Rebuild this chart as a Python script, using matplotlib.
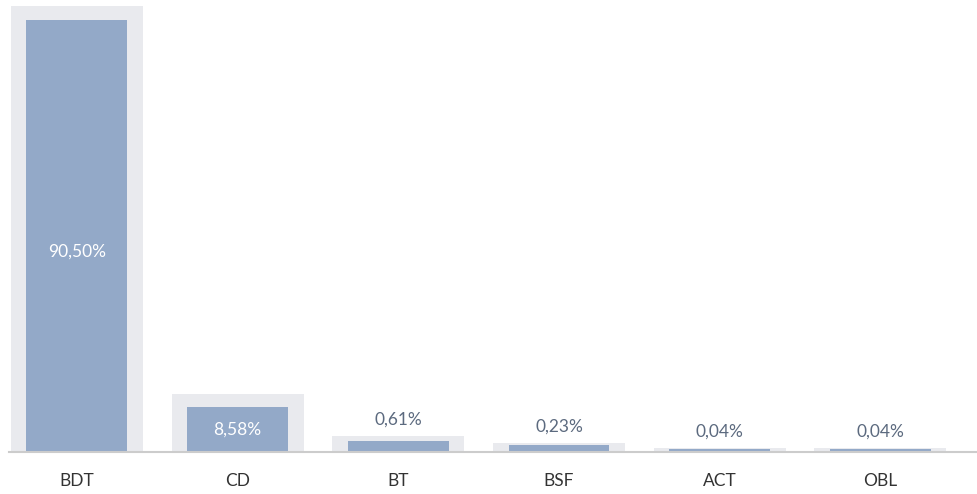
import matplotlib
matplotlib.use("Agg")
import matplotlib.pyplot as plt

categories = ["BDT", "CD", "BT", "BSF", "ACT", "OBL"]
value_labels = ["90,50%", "8,58%", "0,61%", "0,23%", "0,04%", "0,04%"]
# bar heights (same units as the 90.50% bar)
blue_heights = [90.5, 9.43, 2.30, 1.47, 0.63, 0.63]
grey_heights = [93.4, 12.15, 3.35, 1.89, 0.84, 0.84]

plt.rcParams['font.family'] = ['Lato', 'DejaVu Sans']

W, H = 977, 494
fig = plt.figure(figsize=(W / 100, H / 100), dpi=100)
base_px = 452
ppu = 432 / 90.5
ax = fig.add_axes([0, (H - base_px) / H, 1, base_px / H])
ax.set_xlim(-0.4785, 5.601)
ax.set_ylim(0, base_px / ppu)

x = list(range(len(categories)))
ax.bar(x, grey_heights, width=0.821, color="#e9eaee", zorder=1)
ax.bar(x, blue_heights, width=0.628, color="#93a9c8", zorder=2)

for i, (lab, h, g) in enumerate(zip(value_labels, blue_heights, grey_heights)):
    if h > 5:
        yy = h * 0.463 if h > 50 else h / 2
        ax.text(i, yy, lab, ha="center", va="center", color="white", fontsize=12.5, zorder=3)
    else:
        ax.annotate(lab, (i, g), xytext=(0, 11.5), textcoords="offset points",
                    ha="center", va="center", color="#5c6a7f", fontsize=12.5, zorder=3)

for s in ["top", "right", "left"]:
    ax.spines[s].set_visible(False)
ax.spines["bottom"].set_color("#cccccc")
ax.spines["bottom"].set_linewidth(1.5)
ax.spines["bottom"].set_bounds(-0.4225, 5.601)
ax.spines["bottom"].set_zorder(4)
ax.set_yticks([])
ax.set_xticks(x)
ax.set_xticklabels(categories, fontsize=12.5, color="#333333")
ax.tick_params(axis="x", length=0, pad=15)

fig.savefig("out.png", dpi=100)
